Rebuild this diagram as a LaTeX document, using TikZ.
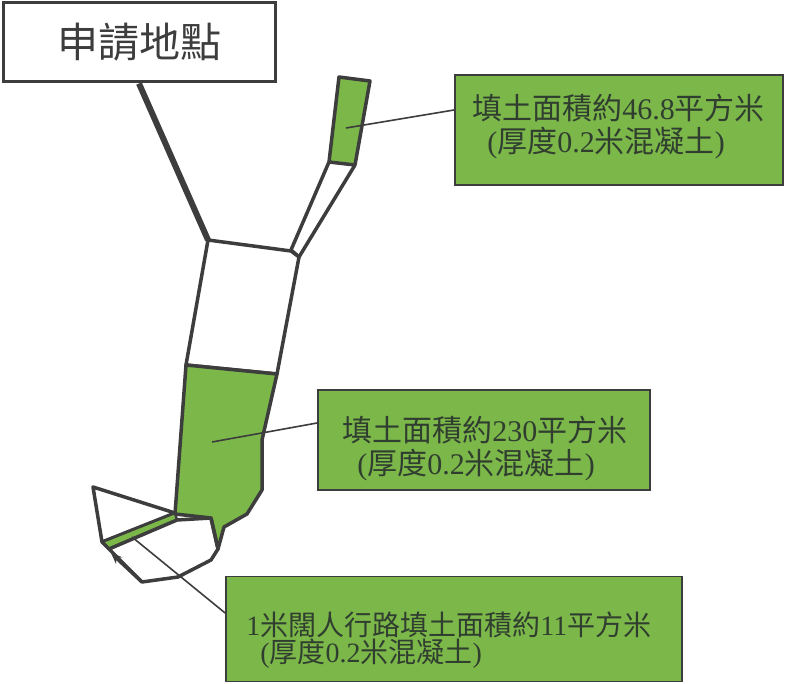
\documentclass[tikz,border=0pt]{standalone}
\usepackage{fontspec}
\setmainfont{Liberation Serif}
\newfontfamily\cjk{Noto Sans CJK TC}
\usepackage{tikz}
\usetikzlibrary{calc, arrows.meta, positioning}
\definecolor{fillGreen}{RGB}{124,183,73}
\definecolor{edgeGray}{gray}{0.24}
\definecolor{textGray}{RGB}{48,62,48}
\newcommand{\zh}[1]{{\cjk #1}}

\begin{document}
\begin{tikzpicture}[x=1pt, y=-1pt,
    plot/.style={draw=edgeGray, line width=3.5pt, line join=round},
    fillbox/.style={draw=edgeGray, fill=fillGreen, line width=1.8pt, inner sep=0pt},
    filltext/.style={anchor=west, align=left, inner sep=0pt, text=textGray},
    leader/.style={draw=edgeGray, line width=1.6pt}]
\useasboundingbox (0,0) rectangle (785,684);

% site label and its pointer
\node[draw=edgeGray, line width=3pt, fill=white, minimum width=272, minimum height=79,
      font={\cjk\fontsize{41}{41}\selectfont}, text=edgeGray] (site) at (139,42.5) {申請地點};
\coordinate (quadNW) at (208,240);
\draw[edgeGray, line width=6pt] (site.south) -- (quadNW);

% plots
\filldraw[plot, fill=fillGreen] (339,77) -- (370,81) -- (355,165) -- (329,162) -- cycle;
\draw[plot] (329,162) -- (291,250) -- (299,257) -- (355,165);
\draw[plot, fill=white] (quadNW) -- (291,251) -- (299,257) -- (277,374) -- (186,365) -- cycle;
\filldraw[plot, fill=fillGreen] (186,365) -- (277,374) -- (262,440) -- (262,490) -- (247,514)
    -- (224,527) -- (218,549) -- (211,518) -- (175,514) -- cycle;
\draw[plot] (93,487) -- (175,513) -- (102,542) -- cycle;
\filldraw[plot, fill=fillGreen, line width=2.5pt] (102,542) -- (175,513) -- (177,520) -- (109,549) -- cycle;
\draw[plot] (109,549) -- (177,520) -- (211,518) -- (218,549) -- (211,560) -- (178,577)
    -- (142,582) -- (102,542);
\draw[plot, -{Stealth[length=11pt, width=9pt]}] (142,582) -- (111,553);

\coordinate (topfill) at (346,128);
\coordinate (midfill) at (212,442);
\coordinate (pathfill) at (132,537);

% labels
\node[fillbox, minimum width=328, minimum height=110] (box1) at (619,130) {};
\node[fillbox, minimum width=332, minimum height=100] (box2) at (484,440) {};
\node[fillbox, minimum width=456, minimum height=105] (box3) at (454,629) {};

\node[filltext, font={\fontsize{30}{33}\selectfont}] (box1txt) at ($(box1.west)+(18,-3.5)$)
    {\zh{填土面積約}46.8\zh{平方米}\\\hspace{0.5em}(\zh{厚度}0.2\zh{米混凝土})};
\node[filltext, font={\fontsize{30}{33}\selectfont}] (box2txt) at ($(box2.west)+(25,8.5)$)
    {\zh{填土面積約}230\zh{平方米}\\\hspace{0.5em}(\zh{厚度}0.2\zh{米混凝土})};
\node[filltext, font={\fontsize{28}{27}\selectfont}] (box3txt) at ($(box3.west)+(21,11.5)$)
    {1\zh{米闊人行路填土面積約}11\zh{平方米}\\\hspace{0.5em}(\zh{厚度}0.2\zh{米混凝土})};

\foreach \from/\to/\dy in {topfill/box1/-20, midfill/box2/-17, pathfill/box3/-16}
    \draw[leader] (\from) -- ($(\to.west)+(0,\dy)$);
\end{tikzpicture}
\end{document}
